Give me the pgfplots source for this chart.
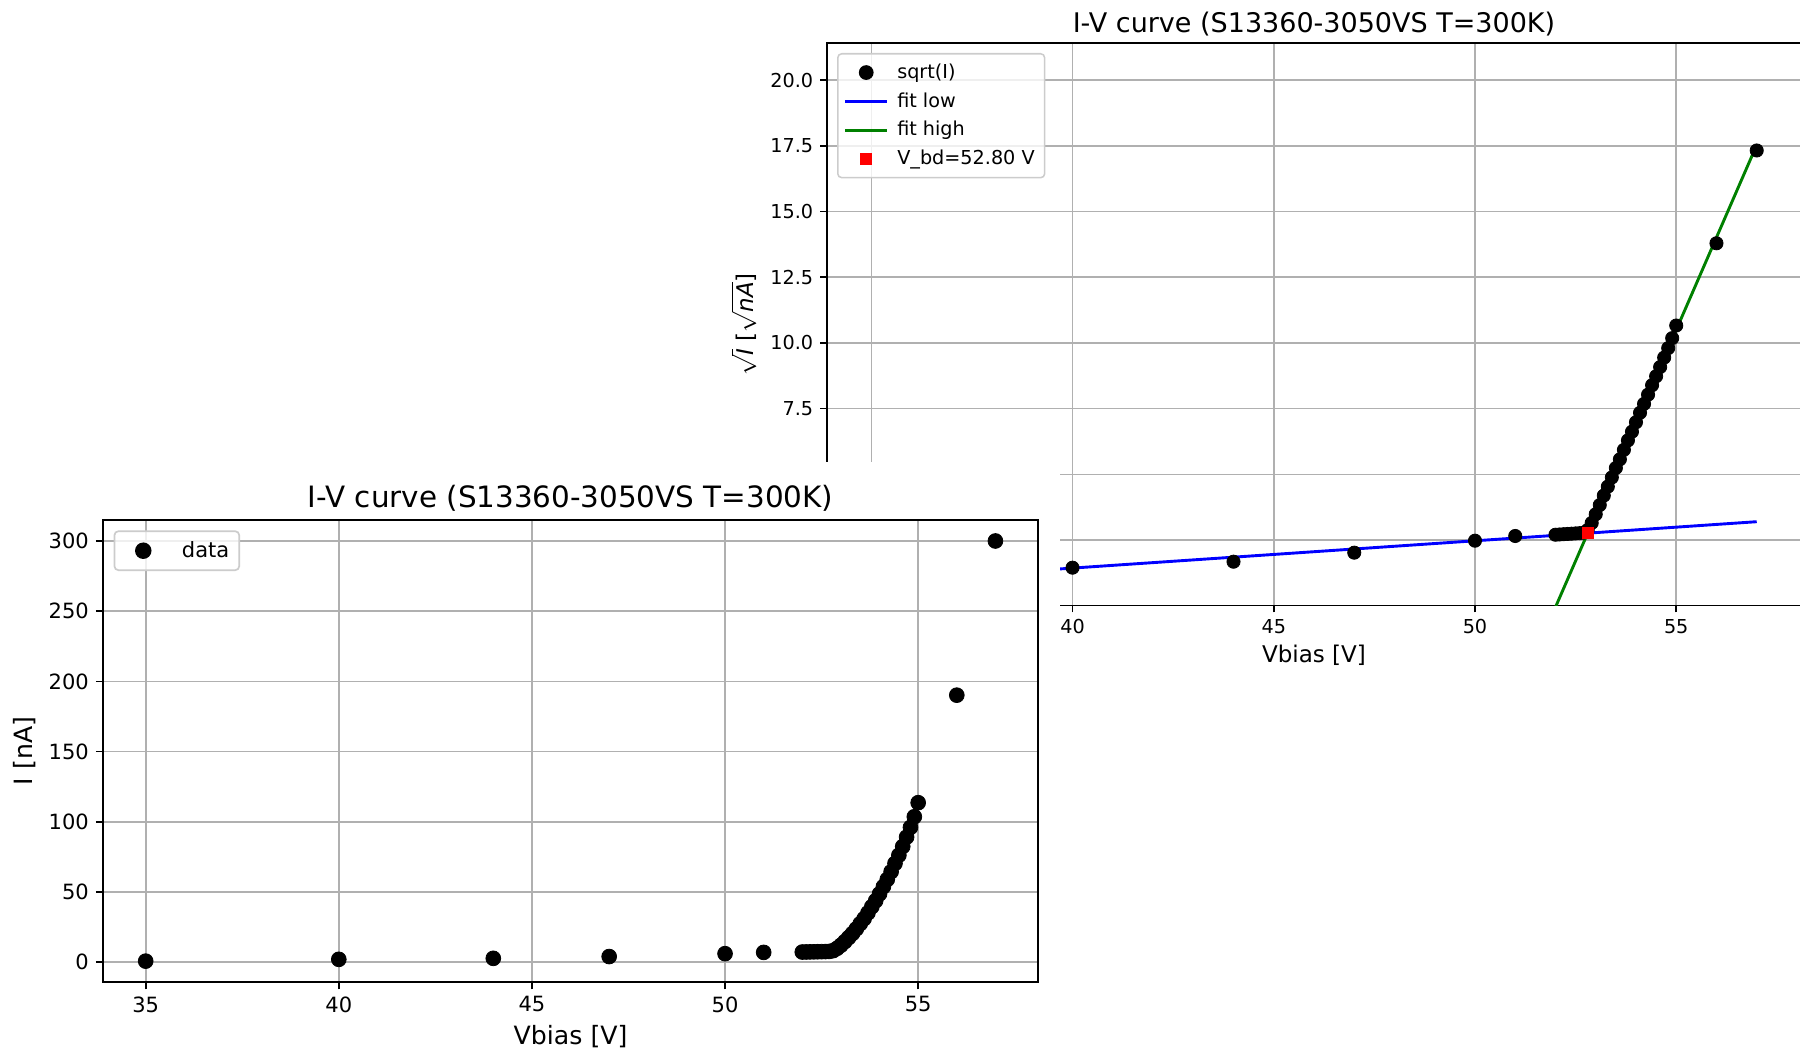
\documentclass[border=0pt]{standalone}
\usepackage{pgfplots}
\usepackage{pgfplotstable}
\pgfplotsset{compat=1.18}
\usepackage{fontspec}
\setmainfont{DejaVu Sans}

\definecolor{gridgray}{HTML}{B0B0B0}
\definecolor{leggray}{HTML}{CCCCCC}
\definecolor{mplgreen}{HTML}{008000}

% I-V data (I in nA)
\pgfplotstableread{
V I
35 0.8
40 2.09
44 2.80
47 4.07
50 6.12
51 7.03
52.0 7.29
52.1 7.34
52.2 7.40
52.3 7.45
52.4 7.51
52.5 7.56
52.6 7.62
52.7 7.73
52.8 8.29
52.9 9.92
53.0 12.11
53.1 14.67
53.2 17.56
53.3 20.52
53.4 23.81
53.5 27.46
53.6 31.02
53.7 35.16
53.8 39.56
53.9 43.82
54.0 48.72
54.1 53.88
54.2 58.98
54.3 64.48
54.4 70.39
54.5 76.21
54.6 82.45
54.7 89.11
54.8 96.04
54.9 103.63
55.0 113.64
56 190.2
57 300
}\dataI

% sqrt(I) data
\pgfplotstableread{
V S
35 0.89
40 1.446
44 1.674
47 2.017
50 2.473
51 2.652
52.0 2.70
52.1 2.71
52.2 2.72
52.3 2.73
52.4 2.74
52.5 2.75
52.6 2.76
52.7 2.78
52.8 2.88
52.9 3.15
53.0 3.48
53.1 3.83
53.2 4.19
53.3 4.53
53.4 4.88
53.5 5.24
53.6 5.57
53.7 5.93
53.8 6.29
53.9 6.62
54.0 6.98
54.1 7.34
54.2 7.68
54.3 8.03
54.4 8.39
54.5 8.73
54.6 9.08
54.7 9.44
54.8 9.80
54.9 10.18
55.0 10.66
56 13.79
57 17.32
}\dataS

\begin{document}
\begin{tikzpicture}
\useasboundingbox (0pt,0pt) rectangle (900pt,525pt);
\clip (0pt,0pt) rectangle (900pt,525pt);

% ---------------- right figure (sqrt plot) ----------------
\begin{axis}[
  at={(413.5pt,222.15pt)}, anchor=south west,
  scale only axis, width=487pt, height=281.35pt,
  xmin=33.9, xmax=58.1, ymin=0, ymax=21.41,
  xtick={35,40,45,50,55},
  xticklabels={,40,45,50,55},
  ytick={0,2.5,5,7.5,10,12.5,15,17.5,20},
  yticklabels={,,,7.5,10.0,12.5,15.0,17.5,20.0},
  /pgf/number format/assume math mode=true,
  tick pos=left, tick align=outside, major tick length=3.4pt,
  tick style={line width=0.77pt, black},
  grid=major, grid style={color=gridgray, line width=0.77pt},
  axis line style={line width=0.77pt},
  ticklabel style={font=\fontsize{9.6}{11.5}\selectfont},
  title={I-V curve (S13360-3050VS T=300K)},
  title style={font=\fontsize{13.5}{16}\selectfont, at={(0.5,1)}, anchor=center, yshift=3.3pt},
  xlabel={Vbias [V]},
  xlabel style={font=\fontsize{11.5}{14}\selectfont, at={(axis description cs:0.5,0)}, anchor=center, yshift=-25pt},
  ylabel={$\sqrt{\textit{I}}$ [$\sqrt{\textit{nA}}$]},
  ylabel style={font=\fontsize{11.5}{14}\selectfont, at={(axis description cs:-0.0852,0.5)}, anchor=center},
  legend image code/.code={\path (0pt,0pt) (21pt,0pt); \draw[mark repeat=2,mark phase=2,fill opacity=1,draw opacity=1,#1] plot coordinates {(0pt,0pt) (10.5pt,0pt) (21pt,0pt)};},
  legend cell align=left,
  legend style={at={(0,1)}, anchor=north west, xshift=5pt, yshift=-5pt,
    font=\fontsize{9.6}{11.5}\selectfont, draw=leggray, line width=0.77pt,
    rounded corners=2pt, fill=white, fill opacity=0.8, text opacity=1,
    row sep=1.6pt, inner xsep=3pt, inner ysep=3pt,
    /tikz/every odd column/.append style={column sep=2.3pt}},
]
\addplot[only marks, mark=*, mark size=3.3pt, mark options={draw=none, fill=black}] table[x=V, y=S] {\dataS};
\addlegendentry{sqrt(I)}
\addplot[blue, line width=1.45pt] coordinates {(35,0.912) (57,3.196)};
\addlegendentry{fit low}
\addplot[mplgreen, line width=1.45pt] coordinates {(52.0,-0.054) (57.0,17.53)};
\addlegendentry{fit high}
\addplot[only marks, red, mark=square*, mark size=2.8pt, mark options={draw=red, fill=red, line width=0.4pt}] coordinates {(52.80,2.76)};
\addlegendentry{V\_bd=52.80 V}
\end{axis}

% white background of the left figure covering part of the right one
\fill[white] (0pt,0pt) rectangle (530pt,294pt);

% ---------------- left figure (I-V plot) ----------------
\begin{axis}[
  at={(51.6pt,34pt)}, anchor=south west,
  scale only axis, width=467.35pt, height=231pt,
  xmin=33.9, xmax=58.1, ymin=-14.05, ymax=314.95,
  xtick={35,40,45,50,55},
  ytick={0,50,100,150,200,250,300},
  /pgf/number format/assume math mode=true,
  tick pos=left, tick align=outside, major tick length=3.7pt,
  tick style={line width=0.84pt, black},
  grid=major, grid style={color=gridgray, line width=0.84pt},
  axis line style={line width=0.84pt},
  ticklabel style={font=\fontsize{10.5}{12.6}\selectfont},
  title={I-V curve (S13360-3050VS T=300K)},
  title style={font=\fontsize{14.7}{17.6}\selectfont, at={(0.5,1)}, anchor=center, yshift=4.8pt},
  xlabel={Vbias [V]},
  xlabel style={font=\fontsize{12.6}{15}\selectfont, at={(axis description cs:0.5,0)}, anchor=center, yshift=-27.5pt},
  ylabel={I [nA]},
  ylabel style={font=\fontsize{12.6}{15}\selectfont, at={(axis description cs:-0.0837,0.5)}, anchor=center},
  legend image code/.code={\path (0pt,0pt) (22pt,0pt); \draw[mark repeat=2,mark phase=2,fill opacity=1,draw opacity=1,#1] plot coordinates {(0pt,0pt) (11pt,0pt) (22pt,0pt)};},
  legend cell align=left,
  legend style={at={(0,1)}, anchor=north west, xshift=5.2pt, yshift=-5.2pt,
    font=\fontsize{10.5}{12.6}\selectfont, draw=leggray, line width=0.84pt,
    rounded corners=2pt, fill=white, fill opacity=0.8, text opacity=1,
    inner xsep=3pt, inner ysep=3pt,
    /tikz/every odd column/.append style={column sep=5.9pt}},
]
\addplot[only marks, mark=*, mark size=3.7pt, mark options={draw=none, fill=black}] table[x=V, y=I] {\dataI};
\addlegendentry{data}
\end{axis}
\end{tikzpicture}
\end{document}
